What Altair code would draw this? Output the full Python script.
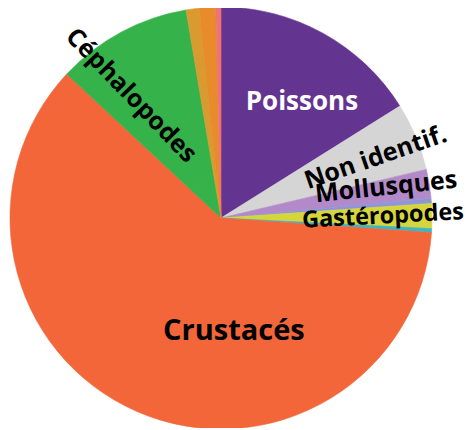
import math
import altair as alt
import pandas as pd

# Slice categories (clockwise from 12 o'clock) and their shares (%)
cats = ["Poissons", "Non identif.", "Mollusques", "Autre a", "Gastéropodes",
        "Autre b", "Crustacés", "Céphalopodes", "Autre c", "Autre d", "Autre e"]
values = [16.1, 5.2, 2.2, 0.4, 1.9, 0.3, 60.85, 10.4, 1.0, 1.25, 0.4]
colors = ["#643491", "#d5d5d5", "#b38ac9", "#8e95d8", "#d6d63c", "#3ab7c2",
          "#f2663a", "#35b34a", "#d99a30", "#e88b2a", "#ef7373"]

df = pd.DataFrame({"cat": cats, "v": values, "idx": list(range(len(cats)))})

base = alt.Chart(df).encode(
    theta=alt.Theta("v:Q", stack=True, scale=alt.Scale(domain=[0, 100])),
    order=alt.Order("idx:Q"),
)

cscale = alt.Scale(domain=cats, range=colors)
pie = base.mark_arc(outerRadius=211, strokeWidth=0.6).encode(
    color=alt.Color("cat:N", scale=cscale, legend=None),
    stroke=alt.Stroke("cat:N", scale=cscale, legend=None),
)


def label(name, r, dtheta, angle, size, color="black"):
    off = math.radians(dtheta % 360)
    return base.transform_calculate(
        lab=f"datum.cat == '{name}' ? datum.cat : ''"
    ).mark_text(
        radius=r, thetaOffset=off, angle=angle, fontSize=size,
        font="Open Sans", fontWeight="bold", color=color,
        align="center", baseline="middle",
    ).encode(text="lab:N")


labels = [
    label("Poissons", 141.5, 5.9, 0, 26, "white"),
    label("Non identif.", 166, 1.3, 341, 25),
    label("Mollusques", 168, -1.3, 354, 25),
    label("Gastéropodes", 162, 0, 357, 23.5),
    label("Céphalopodes", 152, -7.9, 46, 25),
    label("Crustacés", 114, -30, 0, 29),
]

chart = alt.layer(pie, *labels).properties(
    width=426, height=420,
    padding={"left": 0, "top": 0, "right": 34, "bottom": 0},
    autosize=alt.AutoSizeParams(type="none"),
).configure_view(stroke=None)

chart.save("out.html", embed_options={"renderer": "svg", "actions": False})
